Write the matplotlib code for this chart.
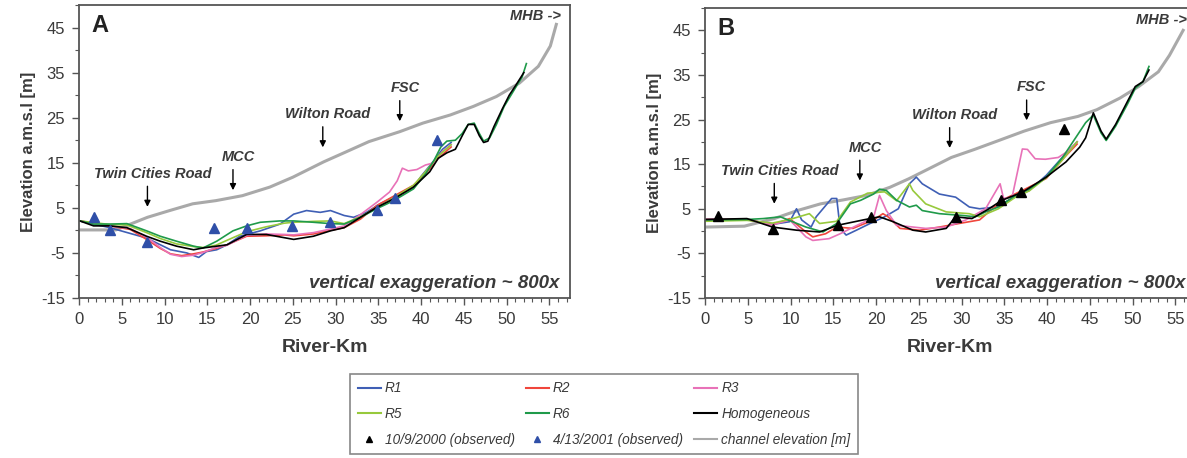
import matplotlib
matplotlib.use("Agg")
import matplotlib.pyplot as plt
from matplotlib.lines import Line2D
from matplotlib.ticker import MultipleLocator

plt.rcParams['font.family'] = ['Liberation Sans', 'DejaVu Sans']
plt.rcParams['axes.unicode_minus'] = False

# ---------------- panel A ----------------
a_chan_km = [0, 4.3, 8, 10.6, 13.3, 16, 19.1, 22.3, 25, 28.6, 31.2, 33.9, 37.5, 40.2, 43.4, 46.1, 48.8, 51.5, 53.7, 55.1, 55.8]
a_chan_el = [0.1, 0.1, 2.9, 4.4, 5.9, 6.6, 7.7, 9.6, 11.8, 15.2, 17.4, 19.7, 21.9, 23.8, 25.6, 27.5, 29.7, 32.7, 36.4, 40.9, 45.7]

a_r1_km = [0.1, 3.6, 7.9, 10.7, 12.6, 14, 14.9, 16.1, 17.3, 18.8, 21.2, 23.5, 25.1, 26.6, 28.2, 29.4, 31, 32.1, 33.6, 35.2, 36.8, 39.1, 40, 41.5, 42.5, 43.5]
a_r1_el = [2.1, 0.6, -1.7, -4.3, -5.0, -6.0, -4.7, -4.3, -3.2, -1.3, -0.1, 1.4, 3.6, 4.4, 4.0, 4.4, 3.3, 2.9, 4.0, 5.9, 7.4, 9.6, 12, 15.5, 18, 19.5]

a_r2_km = [0.1, 3.6, 6, 7.9, 9.5, 10.7, 12, 13.4, 14.5, 16, 17.3, 19.6, 21.9, 24, 25.1, 27.4, 29.4, 31, 32.9, 34.8, 36.8, 39.1, 40.5, 42, 43.5]
a_r2_el = [2.1, 1.0, 0.2, -2.0, -4.0, -5.2, -5.6, -5.2, -4.8, -4.0, -3.2, -1.3, -1.2, -1.0, -1.2, -0.8, 0.0, 0.6, 2.5, 5.5, 7.6, 10, 12.5, 16, 18.5]

a_r3_km = [0.1, 3.6, 6, 7.9, 9.5, 10.7, 12, 13.4, 14.5, 16, 17.3, 19.6, 21.9, 24, 25.1, 27.4, 29.4, 31, 32.9, 34.8, 36.3, 37.2, 37.8, 38.5, 39.5, 40.5, 41.5, 42.5, 43.5]
a_r3_el = [2.1, 1.0, 0.4, -1.5, -3.8, -5.3, -5.8, -5.5, -4.9, -3.8, -3.3, -1.1, -0.8, -0.9, -1.0, -0.5, 0.3, 1.0, 3.5, 6.2, 8.5, 11, 13.8, 13.2, 13.5, 14.5, 15, 17.5, 19]

a_r5_km = [0.1, 3.6, 5.6, 7.9, 9.5, 11.4, 13.4, 14.5, 16, 17.3, 19.6, 21.9, 24, 25.1, 27.4, 29.4, 31, 32.9, 34.8, 36.8, 39.1, 40.5, 42, 43.5]
a_r5_el = [2.1, 1.3, 1.2, -0.5, -1.8, -3.0, -3.6, -3.8, -3.3, -2.2, -0.3, 0.8, 1.6, 1.8, 2.0, 2.1, 1.5, 3.0, 5.0, 7.2, 10, 13, 16.5, 19]

a_r6_km = [0.1, 1.7, 3.6, 5.6, 7.9, 9.5, 11.4, 13.4, 14.5, 16.1, 18, 19.6, 21.2, 23.5, 25.1, 27.4, 29.4, 31, 32.9, 34.8, 36.8, 39.1, 40.5, 41.5, 42.3, 43, 44, 44.8, 45.5, 46.2, 46.8, 47.3, 48, 48.8, 49.7, 50.5, 51.3, 51.8, 52.3]
a_r6_el = [2.1, 1.4, 1.4, 1.5, -0.1, -1.3, -2.4, -3.5, -3.9, -2.4, -0.1, 1.0, 1.8, 2.1, 2.1, 1.8, 1.5, 1.4, 2.9, 4.8, 6.6, 9.2, 12.5, 15.5, 18.5, 19.8, 20, 21.5, 23.5, 23.8, 21.5, 19.8, 20.5, 23.5, 27.5, 30, 32.5, 34, 37]

a_hom_km = [0.1, 1.7, 3.6, 5.6, 7.9, 9.5, 11.4, 13.4, 14.5, 17.3, 19.6, 21.9, 25.1, 27.4, 29.4, 31, 32.9, 34.8, 36.8, 39.1, 41, 42, 43, 44, 44.8, 45.5, 46.2, 46.8, 47.3, 47.8, 48.5, 49.5, 50.3, 51, 51.5, 52]
a_hom_el = [2.1, 1.0, 1.0, 0.6, -1.3, -2.4, -3.5, -4.3, -3.9, -3.2, -0.9, -0.9, -2.0, -1.3, -0.1, 0.6, 2.9, 5.1, 7.0, 9.6, 13, 16, 17.2, 18, 21, 23.5, 23.5, 21, 19.5, 19.8, 23, 27, 30, 32, 33.5, 35]

a_obs01_km = [1.7, 3.6, 8.0, 15.8, 19.6, 24.9, 29.4, 34.8, 37.0, 41.8]
a_obs01_el = [3.0, 0.0, -2.6, 0.6, 0.6, 1.0, 1.9, 4.5, 7.2, 20.0]

# ---------------- panel B ----------------
b_chan_km = [0, 4.6, 8.1, 10.8, 13.5, 16.2, 18.9, 21.6, 23.8, 26.1, 28.8, 31.5, 34.2, 37.3, 40.4, 43.6, 45.8, 48.5, 50.7, 53, 54.3, 55.9]
b_chan_el = [0.9, 1.1, 2.8, 4.6, 6.1, 7.0, 8.0, 9.8, 11.7, 13.9, 16.5, 18.3, 20.2, 22.4, 24.3, 25.7, 27.2, 29.8, 32.4, 35.7, 39.4, 45.0]

b_r1_km = [0, 4.9, 7.9, 9.9, 10.7, 11.3, 12.4, 13.0, 14.8, 15.4, 15.8, 16.5, 17.7, 19.3, 21, 22.6, 23.9, 24.7, 25.4, 27.4, 29.3, 30.9, 32.1, 34, 35.9, 37.9, 39.9, 42, 43.5]
b_r1_el = [2.6, 2.6, 1.5, 2.1, 5.0, 2.5, 0.9, 3.2, 7.3, 7.3, 0.6, -0.9, 0.2, 1.7, 3.2, 5.0, 10.6, 12.1, 10.6, 8.3, 7.6, 5.4, 5.0, 5.4, 7.3, 9.1, 12.5, 17, 20]

b_r2_km = [0, 4.9, 7.9, 9.9, 11.8, 12.6, 14.1, 15.4, 17.3, 19.7, 20.8, 21.4, 22.8, 25.1, 27.4, 29.7, 32.1, 33.6, 35.1, 37.1, 39.9, 42, 43.5]
b_r2_el = [2.6, 2.6, 1.4, 2.8, -0.2, -1.3, -0.6, 0.9, 0.6, 2.5, 3.9, 3.2, 0.6, 0.2, 0.9, 1.7, 2.5, 5.0, 7.3, 9.1, 11.8, 16.5, 19.5]

b_r3_km = [0, 4.9, 7.9, 9.9, 11.8, 12.6, 14.5, 15.8, 18, 19.7, 20.4, 21.2, 22.4, 25.8, 28.2, 30.5, 32.8, 34.5, 34.9, 35.9, 37.1, 37.7, 38.6, 39.8, 41.3, 42.5, 43.5]
b_r3_el = [2.6, 2.6, 1.4, 2.5, -1.3, -2.1, -1.7, -0.6, 1.5, 3.0, 8.0, 4.6, 1.3, 0.6, 0.9, 2.5, 5.0, 10.6, 7.3, 7.6, 18.4, 18.3, 16.2, 16.1, 16.5, 18, 20]

b_r5_km = [0, 4.9, 7.9, 9.9, 12.2, 13.4, 15.4, 17, 19, 21, 22.4, 23.9, 24.3, 25.8, 28.2, 30.9, 32.1, 34.3, 36.3, 37.9, 39.9, 41.8, 43.5]
b_r5_el = [2.2, 2.4, 1.8, 2.6, 3.9, 1.7, 2.2, 6.5, 8.5, 8.8, 6.8, 10.6, 9.1, 6.1, 4.3, 3.9, 3.2, 5.0, 7.6, 9.0, 12.0, 16.0, 20.0]

b_r6_km = [0, 4.9, 6.8, 8.8, 11.8, 13.8, 15.4, 17, 18.2, 19.7, 20.4, 21.2, 22.4, 23.9, 24.7, 25.4, 27.4, 30.1, 31.6, 32.8, 34.3, 36.3, 37.9, 39.9, 41.8, 44.5, 45.4, 46.3, 46.9, 48, 49.4, 50.3, 51.2, 51.9]
b_r6_el = [2.5, 2.6, 2.8, 3.2, 0.9, -0.2, 1.7, 6.1, 6.9, 8.3, 9.4, 9.1, 6.9, 5.4, 5.8, 4.6, 3.9, 3.5, 3.2, 4.3, 5.4, 8.0, 9.4, 12.1, 16.5, 24.3, 26.0, 22.0, 20.3, 23.5, 28.5, 32.0, 33.5, 36.9]

b_hom_km = [0, 4.9, 7.9, 10.7, 13.4, 15.5, 18.5, 20.4, 22, 24.3, 25.8, 28.2, 29.3, 31.2, 33.2, 34.7, 37.1, 39.9, 42.2, 43.8, 44.5, 45.4, 46.3, 46.9, 48, 49.4, 50.3, 51.2, 51.9]
b_hom_el = [2.6, 2.8, 0.9, 0.2, -0.2, 1.3, 2.5, 3.2, 2.1, 0.2, -0.2, 0.6, 3.2, 2.8, 5.0, 6.9, 8.7, 12.1, 15.5, 18.8, 20.9, 26.5, 22.4, 20.6, 23.9, 29.1, 32.4, 33.5, 36.1]

b_obs00_km = [1.5, 7.9, 15.5, 19.4, 29.3, 34.6, 36.9, 42.0]
b_obs00_el = [3.3, 0.4, 1.3, 3.2, 3.2, 6.9, 8.7, 22.8]

# labels
places = ['Twin Cities Road', 'MCC', 'Wilton Road', 'FSC']
a_place_km = [8.0, 18.0, 28.5, 37.5]
a_place_txt_y = [12.6, 16.3, 25.8, 31.6]
b_place_km = [8.1, 18.1, 28.6, 37.6]
b_place_txt_y = [13.5, 18.7, 26.0, 32.2]

C_R1 = '#3f5fb5'
C_R2 = '#f0463c'
C_R3 = '#e872b8'
C_R5 = '#97c93c'
C_R6 = '#1f9a4a'
C_CH = '#a9a9a9'
C_TXT = '#3a3a3a'


def style_axes(ax):
    ax.set_xlim(0, 57.4)
    ax.set_ylim(-15, 50)
    ax.xaxis.set_major_locator(MultipleLocator(5))
    ax.xaxis.set_minor_locator(MultipleLocator(1))
    ax.set_yticks([-15, -5, 5, 15, 25, 35, 45])
    ax.yaxis.set_minor_locator(MultipleLocator(5))
    ax.tick_params(which='major', length=5, width=1, colors='#555555', labelcolor=C_TXT, labelsize=12, pad=5)
    ax.tick_params(which='minor', length=3, width=0.8, colors='#555555')
    for s in ax.spines.values():
        s.set_color('#555555')
        s.set_linewidth(1.3)
    ax.set_xlabel('River-Km', fontsize=14, fontweight='bold', color=C_TXT, labelpad=9)
    ax.set_ylabel('Elevation a.m.s.l [m]', fontsize=12, fontweight='bold', color=C_TXT, labelpad=4)


def draw_panel(ax, letter, chan, series, obs, obs_color, place_km, place_txt_y, mhb_y):
    ax.plot(chan[0], chan[1], color=C_CH, lw=2.2)
    colors = [C_R1, C_R2, C_R3, C_R5, C_R6, 'black']
    for (km, el), c in zip(series, colors):
        ax.plot(km, el, color=c, lw=1.2)
    ax.plot(obs[0], obs[1], linestyle='none', marker='^', markersize=7, color=obs_color)

    for name, km, ty in zip(places, place_km, place_txt_y):
        ax.text(km + 0.6, ty, name, ha='center', va='center', fontsize=10.5,
                fontweight='bold', style='italic', color=C_TXT)
        ax.annotate('', xy=(km, ty - 8.0), xytext=(km, ty - 2.2),
                    arrowprops=dict(arrowstyle='-|>', color='black', lw=1.0, mutation_scale=9))
    ax.text(56.3, mhb_y, 'MHB ->', ha='right', va='center', fontsize=10.5,
            fontweight='bold', style='italic', color=C_TXT)
    ax.text(1.5, 45.5, letter, ha='left', va='center', fontsize=17, fontweight='bold', color='#222222')
    ax.text(56.2, -11.7, 'vertical exaggeration ~ 800x', ha='right', va='center', fontsize=13.5,
            fontweight='bold', style='italic', color=C_TXT)
    style_axes(ax)


fig = plt.figure(figsize=(11.87, 4.58), dpi=100)
ax_a = fig.add_axes([79 / 1187, 160 / 458, 491 / 1187, 293 / 458])
ax_b = fig.add_axes([705 / 1187, 160 / 458, 491 / 1187, 290 / 458])

draw_panel(ax_a, 'A', (a_chan_km, a_chan_el),
           [(a_r1_km, a_r1_el), (a_r2_km, a_r2_el), (a_r3_km, a_r3_el),
            (a_r5_km, a_r5_el), (a_r6_km, a_r6_el), (a_hom_km, a_hom_el)],
           (a_obs01_km, a_obs01_el), '#2f4fa8', a_place_km, a_place_txt_y, 47.5)
draw_panel(ax_b, 'B', (b_chan_km, b_chan_el),
           [(b_r1_km, b_r1_el), (b_r2_km, b_r2_el), (b_r3_km, b_r3_el),
            (b_r5_km, b_r5_el), (b_r6_km, b_r6_el), (b_hom_km, b_hom_el)],
           (b_obs00_km, b_obs00_el), 'black', b_place_km, b_place_txt_y, 47.2)

# legend, filled column by column so rows read R1 R2 R3 / R5 R6 Hom / obs obs channel
h = {
    'R1': Line2D([], [], color=C_R1, lw=1.5),
    'R2': Line2D([], [], color=C_R2, lw=1.5),
    'R3': Line2D([], [], color=C_R3, lw=1.5),
    'R5': Line2D([], [], color=C_R5, lw=1.5),
    'R6': Line2D([], [], color=C_R6, lw=1.5),
    'Homogeneous': Line2D([], [], color='black', lw=1.5),
    '10/9/2000 (observed)': Line2D([], [], ls='none', marker='^', ms=5, color='black'),
    '4/13/2001 (observed)': Line2D([], [], ls='none', marker='^', ms=5, color='#2f4fa8'),
    'channel elevation [m]': Line2D([], [], color=C_CH, lw=1.5),
}
order = ['R1', 'R5', '10/9/2000 (observed)', 'R2', 'R6', '4/13/2001 (observed)',
         'R3', 'Homogeneous', 'channel elevation [m]']
leg = fig.legend([h[k] for k in order], order, ncol=3, loc='center',
                 bbox_to_anchor=(604 / 1187, 1 - 414 / 458),
                 prop={'style': 'italic', 'size': 9.8},
                 fancybox=False, framealpha=1, edgecolor='#888888',
                 handlelength=1.7, handletextpad=0.3, columnspacing=0.8,
                 borderpad=0.55, labelspacing=0.85)
leg.get_frame().set_linewidth(1.2)
for t in leg.get_texts():
    t.set_color(C_TXT)

plt.savefig('out.png', dpi=100)
plt.close()
